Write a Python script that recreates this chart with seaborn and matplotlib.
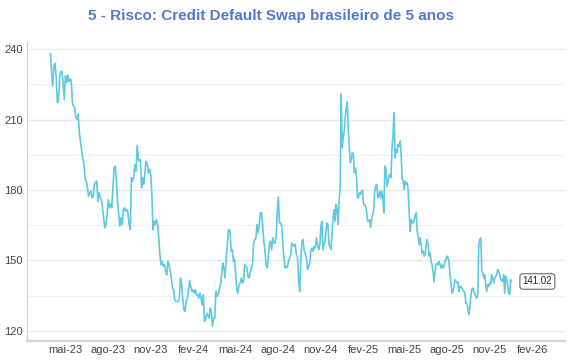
import numpy as np
import pandas as pd
import matplotlib
matplotlib.use("Agg")
import matplotlib.pyplot as plt
import seaborn as sns

bloco1_periodo = ("2023-03-29", "2023-10-05")
bloco1 = [238.2, 230.0, 224.3, 232.9, 233.9, 227.9, 217.2, 217.7, 227.9, 230.5,
          230.5, 225.1, 218.6, 228.6, 225.8, 229.0, 226.2, 227.2, 226.8, 217.2,
          215.8, 215.1, 210.8, 210.1, 212.2, 204.4, 200.9, 196.6, 193.7, 190.9,
          184.5, 183.8, 180.9, 177.4, 178.8, 179.5, 176.7, 177.4, 182.4, 183.5,
          183.8, 175.2, 178.8, 176.7, 175.9, 172.4, 168.1, 163.9, 165.3, 169.5,
          175.9, 172.4, 174.1, 172.4, 180.9, 189.5, 190.2, 183.8, 175.2, 169.5,
          164.6, 168.1, 165.3, 171.7, 172.4, 171.0, 171.7, 170.3, 165.3, 163.1,
          185.2, 183.8, 185.9, 190.9, 188.1, 199.1, 193.0]

bloco2_periodo = ("2023-10-07", "2024-04-19")
bloco2 = [192.3, 193.0, 180.9, 185.2, 182.4, 188.1, 192.3, 190.9, 187.3, 188.8,
          186.6, 178.1, 163.1, 166.7, 165.3, 167.4, 165.3, 159.6, 152.5, 148.2,
          149.6, 147.5, 148.2, 145.3, 143.9, 149.6, 148.2, 145.3, 142.5, 138.2,
          137.5, 133.2, 132.5, 132.5, 132.5, 133.9, 142.5, 139.6, 133.9, 129.0,
          128.3, 132.5, 133.9, 136.8, 141.4, 138.9, 136.8, 137.5, 136.1, 137.5,
          135.4, 135.4, 133.9, 136.1, 133.9, 131.1, 135.4, 124.0, 125.1, 127.5,
          126.5, 125.4, 129.7, 128.3, 121.9, 125.4, 125.4, 136.8, 134.7, 135.4,
          137.5, 139.6, 143.9, 148.9, 146.8, 142.5, 151.0, 156.7, 163.1, 163.1]

bloco3_periodo = ("2024-04-20", "2024-10-31")
bloco3 = [161.7, 153.9, 154.6, 149.6, 150.3, 143.9, 137.5, 136.1, 139.6, 140.4,
          142.5, 140.4, 141.1, 148.2, 147.5, 146.8, 143.2, 142.5, 145.3, 146.8,
          148.2, 157.4, 158.9, 159.6, 165.3, 161.7, 165.3, 170.3, 170.3, 165.3,
          158.1, 154.6, 148.2, 146.8, 151.0, 156.7, 158.1, 154.6, 159.6, 157.4,
          157.4, 159.6, 171.0, 176.9, 166.0, 166.0, 164.6, 156.7, 151.0, 146.8,
          147.5, 147.0, 149.6, 151.0, 152.2, 157.4, 156.7, 156.0, 157.0, 152.5,
          151.8, 142.5, 136.8, 151.0, 158.1, 158.9, 153.9, 152.8, 151.0, 146.1,
          147.5, 148.9, 154.6, 155.3, 153.9, 156.0, 155.3, 159.6, 156.7, 154.6,
          156.7]

bloco4_periodo = ("2024-11-02", "2025-05-12")
bloco4 = [164.6, 166.7, 154.6, 156.7, 158.1, 162.4, 166.0, 165.3, 156.7, 155.6,
          154.6, 161.7, 167.4, 171.7, 166.7, 173.8, 171.7, 165.3, 175.2, 180.9,
          220.8, 198.0, 202.3, 205.1, 210.8, 215.1, 217.6, 205.8, 198.0, 191.6,
          193.0, 195.9, 195.2, 187.3, 189.5, 185.9, 176.7, 176.7, 178.8, 178.1,
          179.5, 179.8, 173.8, 173.8, 173.1, 170.9, 166.7, 166.7, 167.4, 164.1,
          167.4, 169.8, 171.7, 179.5, 181.6, 182.4, 176.7, 177.4, 179.5, 176.7,
          179.5, 175.9, 170.3, 190.2, 188.8, 181.6, 183.8, 185.9, 186.6, 185.2,
          198.0, 203.0, 212.9, 193.7, 197.3, 195.9, 199.4, 198.7, 200.9, 195.2,
          184.5, 183.8, 180.2, 183.8, 182.4, 183.1, 179.5, 169.5]

bloco5_periodo = ("2025-05-14", "2025-12-19")
bloco5 = [162.4, 167.4, 166.0, 166.0, 167.4, 169.5, 170.3, 162.4, 160.3, 156.7,
          159.6, 156.7, 153.2, 153.9, 151.8, 152.5, 156.7, 158.9, 156.7, 151.8,
          153.2, 149.6, 148.2, 145.3, 140.8, 145.3, 148.2, 148.9, 148.2, 149.6,
          148.2, 146.8, 148.2, 146.8, 147.5, 149.6, 150.3, 151.8, 151.0, 149.6,
          143.9, 140.4, 136.1, 136.8, 138.9, 141.8, 141.1, 140.4, 140.8, 136.8,
          138.9, 138.9, 138.2, 137.5, 136.8, 136.1, 131.8, 131.8, 129.7, 126.8,
          129.7, 134.7, 137.5, 138.2, 136.8, 136.1, 134.7, 133.9, 135.4, 156.7,
          158.9, 159.6, 145.3, 144.6, 142.5, 143.9, 139.6, 136.8, 139.6, 138.9,
          140.4, 139.9, 143.9, 142.5, 140.4, 142.5, 143.2, 143.9, 146.1, 145.3,
          143.9, 141.8, 141.8, 141.1, 143.9, 136.1, 143.2, 141.8, 139.6, 136.1,
          135.4, 141.8, 141.02]

meses = ["2023-05-01", "2023-08-01", "2023-11-01", "2024-02-01", "2024-05-01",
         "2024-08-01", "2024-11-01", "2025-02-01", "2025-05-01", "2025-08-01",
         "2025-11-01", "2026-02-01"]
meses_rotulos = ["mai-23", "ago-23", "nov-23", "fev-24", "mai-24", "ago-24",
                 "nov-24", "fev-25", "mai-25", "ago-25", "nov-25", "fev-26"]

titulo = "5 - Risco: Credit Default Swap brasileiro de 5 anos"

blocos = [(bloco1_periodo, bloco1), (bloco2_periodo, bloco2), (bloco3_periodo, bloco3),
          (bloco4_periodo, bloco4), (bloco5_periodo, bloco5)]
partes = []
for (ini, fim), vals in blocos:
    partes.append(pd.DataFrame({
        "data": pd.date_range(ini, fim, periods=len(vals)),
        "cds": vals,
    }))
df = pd.concat(partes, ignore_index=True)

sns.set_theme(style="white")
plt.rcParams["font.family"] = ["Liberation Sans", "DejaVu Sans"]

fig = plt.figure(figsize=(5.7, 3.6), dpi=100)
ax = fig.add_axes([0.047, 0.053, 0.944, 0.83])

sns.lineplot(data=df, x="data", y="cds", ax=ax, color="#5ec9e1", linewidth=1.2)

ax.set_xlim(pd.Timestamp("2023-02-06"), pd.Timestamp("2026-04-13"))
ax.set_ylim(115.7, 243)
ax.set_yticks([120, 150, 180, 210, 240])
ax.set_yticks([135, 165, 195, 225], minor=True)
ax.set_xticks(pd.to_datetime(meses))
ax.set_xticklabels(meses_rotulos)
ax.set_xlabel("")
ax.set_ylabel("")

ax.grid(True, which="major", axis="y", color="#e9e9e9", linewidth=1.0)
ax.grid(True, which="minor", axis="y", color="#f1f1f1", linewidth=0.8)
ax.set_axisbelow(True)
ax.tick_params(axis="both", which="both", length=0, labelsize=8, colors="#444444", pad=3)

for lado in ["top", "right"]:
    ax.spines[lado].set_visible(False)
ax.spines["left"].set_color("#d0d0d0")
ax.spines["left"].set_linewidth(0.8)
ax.spines["bottom"].set_color("#d6d6d6")
ax.spines["bottom"].set_linewidth(1.6)

ultimo = df.iloc[-1]
ax.annotate(f"{ultimo['cds']:.2f}", xy=(ultimo["data"], ultimo["cds"]),
            xytext=(11, 0), textcoords="offset pixels", ha="left", va="center",
            fontsize=7, color="#222222",
            bbox=dict(boxstyle="round,pad=0.28", fc="white", ec="#555555", lw=0.7))

fig.text(0.475, 0.955, titulo, ha="center", va="center", fontsize=11,
         fontweight="bold", color="#5577d4")

fig.savefig("out.png", dpi=100)
